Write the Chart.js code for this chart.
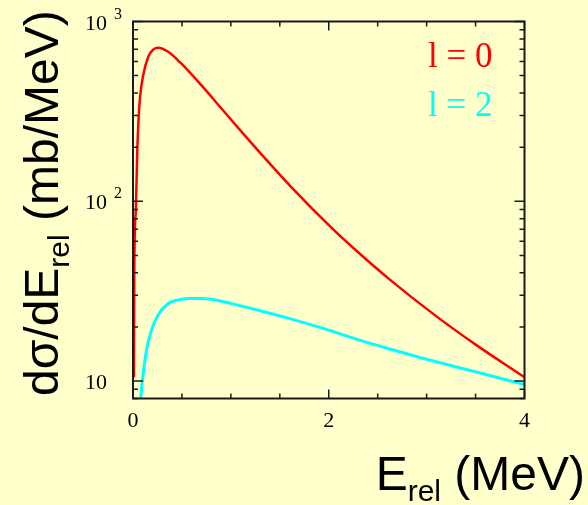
<!DOCTYPE html>
<html lang="en">
<head>
<meta charset="UTF-8">
<title>dσ/dE_rel spectrum</title>
<script src="https://cdn.jsdelivr.net/npm/chart.js"></script>
<style>
  html, body { margin: 0; padding: 0; background: #ffffcc; }
  canvas { display: block; }
</style>
</head>
<body>
<canvas id="spectrum" width="588" height="505"></canvas>
<script>
// values (E_rel in MeV, dsigma/dE in mb/MeV)
var energyL0 = [0.009, 0.013, 0.029, 0.044, 0.054, 0.071, 0.105, 0.156, 0.21, 0.258, 0.36, 0.49, 0.70, 0.904, 1.108, 1.31, 1.617, 2.04, 2.30, 2.64, 3.06, 3.49, 4.0];
var sigmaL0  = [10.5, 42, 90, 193, 266, 374, 505, 637, 700, 715, 679, 586, 441, 328, 244, 183, 120, 70.3, 52.1, 36.1, 23.8, 16.1, 10.5];

var energyL2 = [0.078, 0.105, 0.139, 0.19, 0.258, 0.36, 0.45, 0.564, 0.70, 0.87, 1.03, 1.30, 1.62, 2.0, 2.30, 2.64, 2.98, 3.49, 4.0];
var sigmaL2  = [8.0, 11.1, 15.0, 19.3, 23.4, 27.0, 28.2, 28.8, 28.8, 28.1, 26.8, 24.6, 22.1, 19.2, 17.0, 15.0, 13.3, 11.3, 9.57];

var seriesLabels = ['l = 0', 'l = 2'];
var xTickLabels = [0, 2, 4];
var yTickValues = [10, 100, 1000];
var yTickExponents = ['', '2', '3'];

function toPoints(xs, ys) {
    return xs.map(function(x, i) { return { x: x, y: ys[i] }; });
}

var serif = '"Liberation Serif", "Times New Roman", serif';
var sans = '"Liberation Sans", Arial, sans-serif';

// frame, inward ticks, labels and titles, all placed with the chart's scales
var framePlugin = {
    id: 'frame',
    beforeDraw: function(chart) {
        var ctx = chart.ctx;
        ctx.save();
        ctx.fillStyle = '#ffffcc';
        ctx.fillRect(0, 0, chart.width, chart.height);
        ctx.restore();
    },
    afterDraw: function(chart) {
        var ctx = chart.ctx;
        var a = chart.chartArea;
        var xs = chart.scales.x, ys = chart.scales.y;
        ctx.save();
        ctx.strokeStyle = '#1a1a1a';
        ctx.lineWidth = 2;
        ctx.strokeRect(a.left, a.top, a.right - a.left, a.bottom - a.top);

        ctx.lineWidth = 1.5;
        ctx.beginPath();
        // x ticks every 0.5 MeV, long ones at the labels
        for (var v = xs.min; v <= xs.max + 1e-9; v += 0.5) {
            var px = xs.getPixelForValue(v);
            var len = xTickLabels.indexOf(v) >= 0 ? 9 : 5;
            ctx.moveTo(px, a.bottom); ctx.lineTo(px, a.bottom - len);
            ctx.moveTo(px, a.top); ctx.lineTo(px, a.top + len);
        }
        // log y ticks
        for (var d = 1; d <= 1000; d *= 10) {
            for (var m = 1; m <= 9; m++) {
                var val = m * d;
                if (val < ys.min || val > ys.max) continue;
                var py = ys.getPixelForValue(val);
                var l = m === 1 ? 10 : 5;
                ctx.moveTo(a.left, py); ctx.lineTo(a.left + l, py);
                ctx.moveTo(a.right, py); ctx.lineTo(a.right - l, py);
            }
        }
        ctx.stroke();

        // tick labels
        ctx.fillStyle = '#000';
        ctx.font = '22px ' + serif;
        ctx.textAlign = 'center';
        ctx.textBaseline = 'alphabetic';
        xTickLabels.forEach(function(t) {
            ctx.fillText(String(t), xs.getPixelForValue(t), 427);
        });
        yTickValues.forEach(function(t, i) {
            var py = ys.getPixelForValue(t);
            ctx.font = '22px ' + serif;
            ctx.textAlign = 'right';
            ctx.fillText('10', 107, py + 8);
            if (yTickExponents[i]) {
                ctx.font = '16px ' + serif;
                ctx.textAlign = 'left';
                ctx.fillText(yTickExponents[i], 114, py - 3);
            }
        });

        // legend text in the dataset colours
        ctx.font = '35px ' + serif;
        ctx.textAlign = 'left';
        chart.data.datasets.forEach(function(ds, i) {
            ctx.fillStyle = ds.borderColor;
            ctx.fillText(ds.label, 428, 67 + i * 49);
        });

        // x title: E_rel (MeV), right aligned
        ctx.fillStyle = '#000';
        var big = '48px ' + sans, small = '30px ' + sans;
        ctx.font = big; var wE = ctx.measureText('E').width;
        ctx.font = small; var wR = ctx.measureText('rel').width;
        ctx.font = big; var wU = ctx.measureText(' (MeV)').width;
        var x0 = 585 - (wE + wR + wU);
        ctx.font = big; ctx.fillText('E', x0, 490);
        ctx.font = small; ctx.fillText('rel', x0 + wE, 501);
        ctx.font = big; ctx.fillText(' (MeV)', x0 + wE + wR, 490);

        // y title, rotated
        ctx.translate(58, 396);
        ctx.rotate(-Math.PI / 2);
        var yb = '48px ' + sans, ysm = '30px ' + sans;
        ctx.font = yb; ctx.fillText('dσ/dE', 0, 0);
        var w1 = ctx.measureText('dσ/dE').width;
        ctx.font = ysm; ctx.fillText('rel', w1, 11);
        var w2 = ctx.measureText('rel').width;
        ctx.font = yb; ctx.fillText(' (mb/MeV)', w1 + w2, 0);
        ctx.restore();
    }
};

var chart = new Chart(document.getElementById('spectrum'), {
    type: 'line',
    data: {
        datasets: [
            {
                label: seriesLabels[0],
                data: toPoints(energyL0, sigmaL0),
                borderColor: '#ff0000',
                borderWidth: 2.5,
                pointRadius: 0,
                cubicInterpolationMode: 'monotone'
            },
            {
                label: seriesLabels[1],
                data: toPoints(energyL2, sigmaL2),
                borderColor: '#00ffff',
                borderWidth: 3,
                pointRadius: 0,
                cubicInterpolationMode: 'monotone'
            }
        ]
    },
    options: {
        responsive: false,
        animation: false,
        layout: { padding: { left: 133, right: 63.5, top: 21.5, bottom: 106.5 } },
        plugins: { legend: { display: false }, tooltip: { enabled: false } },
        scales: {
            x: { type: 'linear', min: 0, max: 4, display: false },
            y: { type: 'logarithmic', min: 8, max: 1000, display: false }
        }
    },
    plugins: [framePlugin]
});
</script>
</body>
</html>
